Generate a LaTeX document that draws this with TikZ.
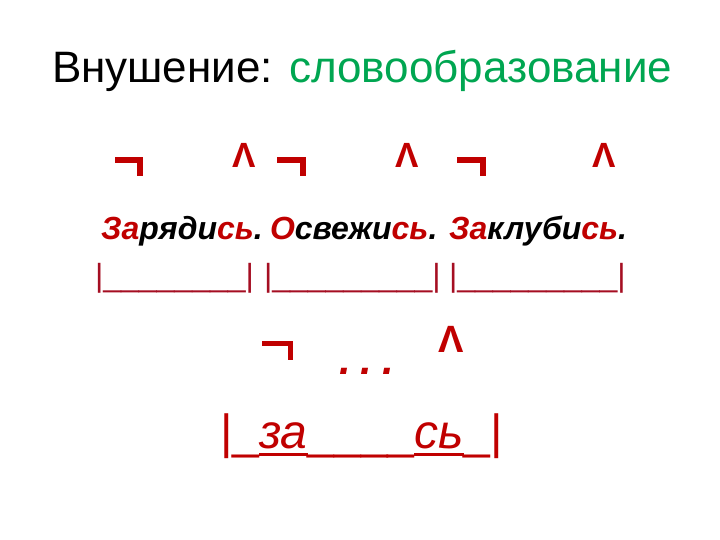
\documentclass[tikz,border=0pt]{standalone}
\usepackage{fontspec}
\setmainfont{Liberation Sans}
\definecolor{myred}{RGB}{192,0,0}
\definecolor{bred}{RGB}{165,14,34}
\definecolor{mygreen}{RGB}{0,166,81}
\newsavebox{\myulbox}
\newcommand{\myul}[1]{\sbox{\myulbox}{#1}\rlap{\rule[-8pt]{\wd\myulbox}{3pt}}\usebox{\myulbox}}
\begin{document}
\begin{tikzpicture}[x=1pt,y=-1pt,
  every node/.style={inner sep=0pt, outer sep=0pt, anchor=base west},
  titletext/.style={font=\fontsize{44}{50}\selectfont},
  wordtext/.style={font=\fontsize{32}{36}\selectfont\bfseries\itshape},
  bracket/.style={text=bred, font=\fontsize{32}{36}\selectfont},
  negmark/.style={draw=myred, line width=5.5pt, line join=miter, line cap=butt},
  sufmark/.style={text=myred, font=\fontsize{35}{40}\selectfont\bfseries},
  sufmarkbig/.style={text=myred, font=\fontsize{38}{44}\selectfont\bfseries},
  dotstext/.style={text=myred, font=\fontsize{42}{46}\selectfont\bfseries\itshape},
  patterntext/.style={text=myred, font=\fontsize{48}{54}\selectfont}
]
\useasboundingbox (0,0) rectangle (720,540);
% title
\node[titletext] (title) at (52,83) {Внушение: \textcolor{mygreen}{словообразование}};
% upper marks
\coordinate (p1) at (115,160);
\draw[negmark] (p1) -| ++(25,16);
\node[sufmark] (s1) at (232,168) {Λ};
\coordinate (p2) at (277,160);
\draw[negmark] (p2) -| ++(26,16);
\node[sufmark] (s2) at (395,168) {Λ};
\coordinate (p3) at (457,160);
\draw[negmark] (p3) -| ++(26,16);
\node[sufmark] (s3) at (592,168) {Λ};
% words
\node[wordtext] (w1) at (101,240) {\textcolor{myred}{За}ряди\textcolor{myred}{сь}.};
\node[wordtext] (w2) at (270,240) {\textcolor{myred}{О}свежи\textcolor{myred}{сь}.};
\node[wordtext] (w3) at (449,240) {\textcolor{myred}{За}клуби\textcolor{myred}{сь}.};
% brackets
\node[bracket] (b1) at (95,286) {|\_\_\_\_\_\_\_\_|};
\node[bracket] (b2) at (264,286) {|\_\_\_\_\_\_\_\_\_|};
\node[bracket] (b3) at (449,286) {|\_\_\_\_\_\_\_\_\_|};
% lower marks
\coordinate (p4) at (262,343.5);
\draw[negmark] (p4) -| ++(28.5,16);
\node[dotstext] (dots) at (339,374) {.\hspace{10pt}.\hspace{10pt}.};
\node[sufmarkbig] (s4) at (438,352) {Λ};
% pattern
\node[patterntext] (pat) at (220,448) {|\_\myul{\itshape за}\_\_\_\_\myul{\itshape сь}\_|};
\end{tikzpicture}
\end{document}
